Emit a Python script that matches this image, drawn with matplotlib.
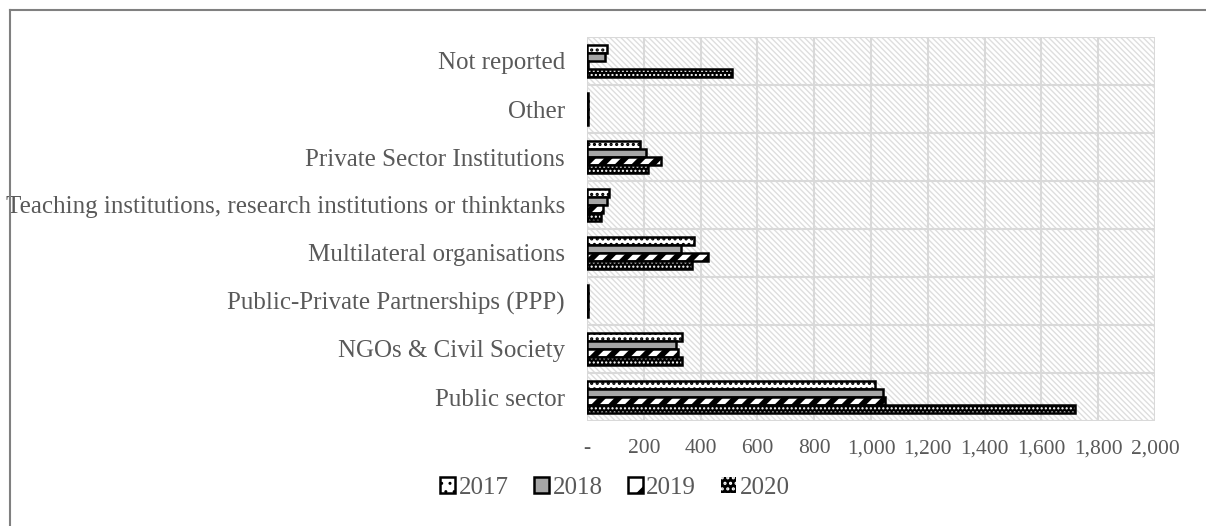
"""Recipients by year - horizontal grouped bars with Excel-like patterns."""

import numpy as np
import matplotlib
matplotlib.use('Agg')
import matplotlib.pyplot as plt
from matplotlib.patches import Rectangle, Patch
from matplotlib.lines import Line2D
from matplotlib.ticker import FuncFormatter

categories = ['Not reported', 'Other', 'Private Sector Institutions',
              'Teaching institutions, research institutions or thinktanks',
              'Multilateral organisations', 'Public-Private Partnerships (PPP)',
              'NGOs & Civil Society', 'Public sector']
years = ['2017', '2018', '2019', '2020']
v2017 = [70, 5, 188, 78, 375, 3, 336, 1013]
v2018 = [63, 5, 206, 69, 332, 3, 315, 1043]
v2019 = [2, 5, 262, 57, 426, 3, 320, 1048]
v2020 = [512, 5, 214, 48, 371, 3, 336, 1718]
xticks = [0, 200, 400, 600, 800, 1000, 1200, 1400, 1600, 1800, 2000]

TEXT = '#595959'
GRID = '#d9d9d9'

plt.rcParams['font.family'] = ['Liberation Serif', 'DejaVu Serif']

fig = plt.figure(figsize=(12.06, 5.26), dpi=100)
ax = fig.add_axes([587 / 1206, 1 - 421 / 526, 568 / 1206, 384 / 526])


def set_hlw(patches, lw):
    for p in patches:
        if hasattr(p, 'set_hatch_linewidth'):
            p.set_hatch_linewidth(lw)


# hatched plot background
bg = Rectangle((0, 0), 1, 1, transform=ax.transAxes, facecolor='white',
               edgecolor='#dedede', hatch='\\' * 6, linewidth=0, zorder=0)
ax.add_patch(bg)
set_hlw([bg], 1.0)

y = np.arange(len(categories))
h = 0.165
offs = [-1.5 * h, -0.5 * h, 0.5 * h, 1.5 * h]

b17 = ax.barh(y + offs[0], v2017, h, color='white', edgecolor='black',
              hatch='...', linewidth=1.8, zorder=3)
set_hlw(b17, 1.5)
b18 = ax.barh(y + offs[1], v2018, h, color='#a6a6a6', edgecolor='black',
              linewidth=1.8, zorder=3)
b19 = ax.barh(y + offs[2], v2019, h, color='white', edgecolor='black',
              hatch='//', linewidth=1.8, zorder=3)
set_hlw(b19, 4.2)
b20 = ax.barh(y + offs[3], v2020, h, color='black', edgecolor='white',
              hatch='....', linewidth=0, zorder=3)
set_hlw(b20, 1.0)
ax.barh(y + offs[3], v2020, h, color='none', edgecolor='black',
        linewidth=1.8, zorder=4)

ax.set_xlim(0, 2000)
ax.set_ylim(len(categories) - 0.5, -0.5)
ax.set_xticks(xticks)
ax.xaxis.set_major_formatter(FuncFormatter(
    lambda v, p: '-' if v == 0 else f'{int(v):,}'))
ax.set_yticks(y)
ax.set_yticklabels(categories)
ax.set_yticks(np.arange(len(categories) + 1) - 0.5, minor=True)
ax.tick_params(axis='x', length=0, labelsize=15.5, colors=TEXT, pad=13)
ax.tick_params(axis='y', which='both', length=0, labelsize=18,
               colors=TEXT, pad=16)
ax.grid(True, axis='x', color=GRID, linewidth=1.5, zorder=1)
ax.grid(True, axis='y', which='minor', color=GRID, linewidth=1.5, zorder=1)
for s in ax.spines.values():
    s.set_visible(False)
ax.set_axisbelow(True)

handles = [
    Patch(facecolor='white', edgecolor='black', hatch='..', label='2017'),
    Patch(facecolor='#a6a6a6', edgecolor='black', label='2018'),
    Patch(facecolor='white', edgecolor='black', hatch='/', label='2019'),
    Patch(facecolor='black', edgecolor='white', hatch='...', label='2020'),
]
leg = fig.legend(handles=handles, loc='center', ncol=4,
                 bbox_to_anchor=(0.51, 0.072), frameon=False, fontsize=18,
                 handlelength=0.6, handleheight=0.6, handletextpad=0.15,
                 columnspacing=1.0, labelcolor=TEXT)
lp = leg.get_patches()
for p in lp[:3]:
    p.set_linewidth(1.8)
lp[3].set_linewidth(0)
set_hlw(lp[2:3], 4)
set_hlw(lp[3:4], 1.5)

# outer chart frame (cut off at right and bottom)
fig.add_artist(Line2D([10 / 1206, 1.01], [1 - 10 / 526] * 2,
                      color='#808080', linewidth=1.5))
fig.add_artist(Line2D([10 / 1206] * 2, [-0.01, 1 - 10 / 526],
                      color='#808080', linewidth=1.5))

fig.savefig('out.png', dpi=100, facecolor='white')
